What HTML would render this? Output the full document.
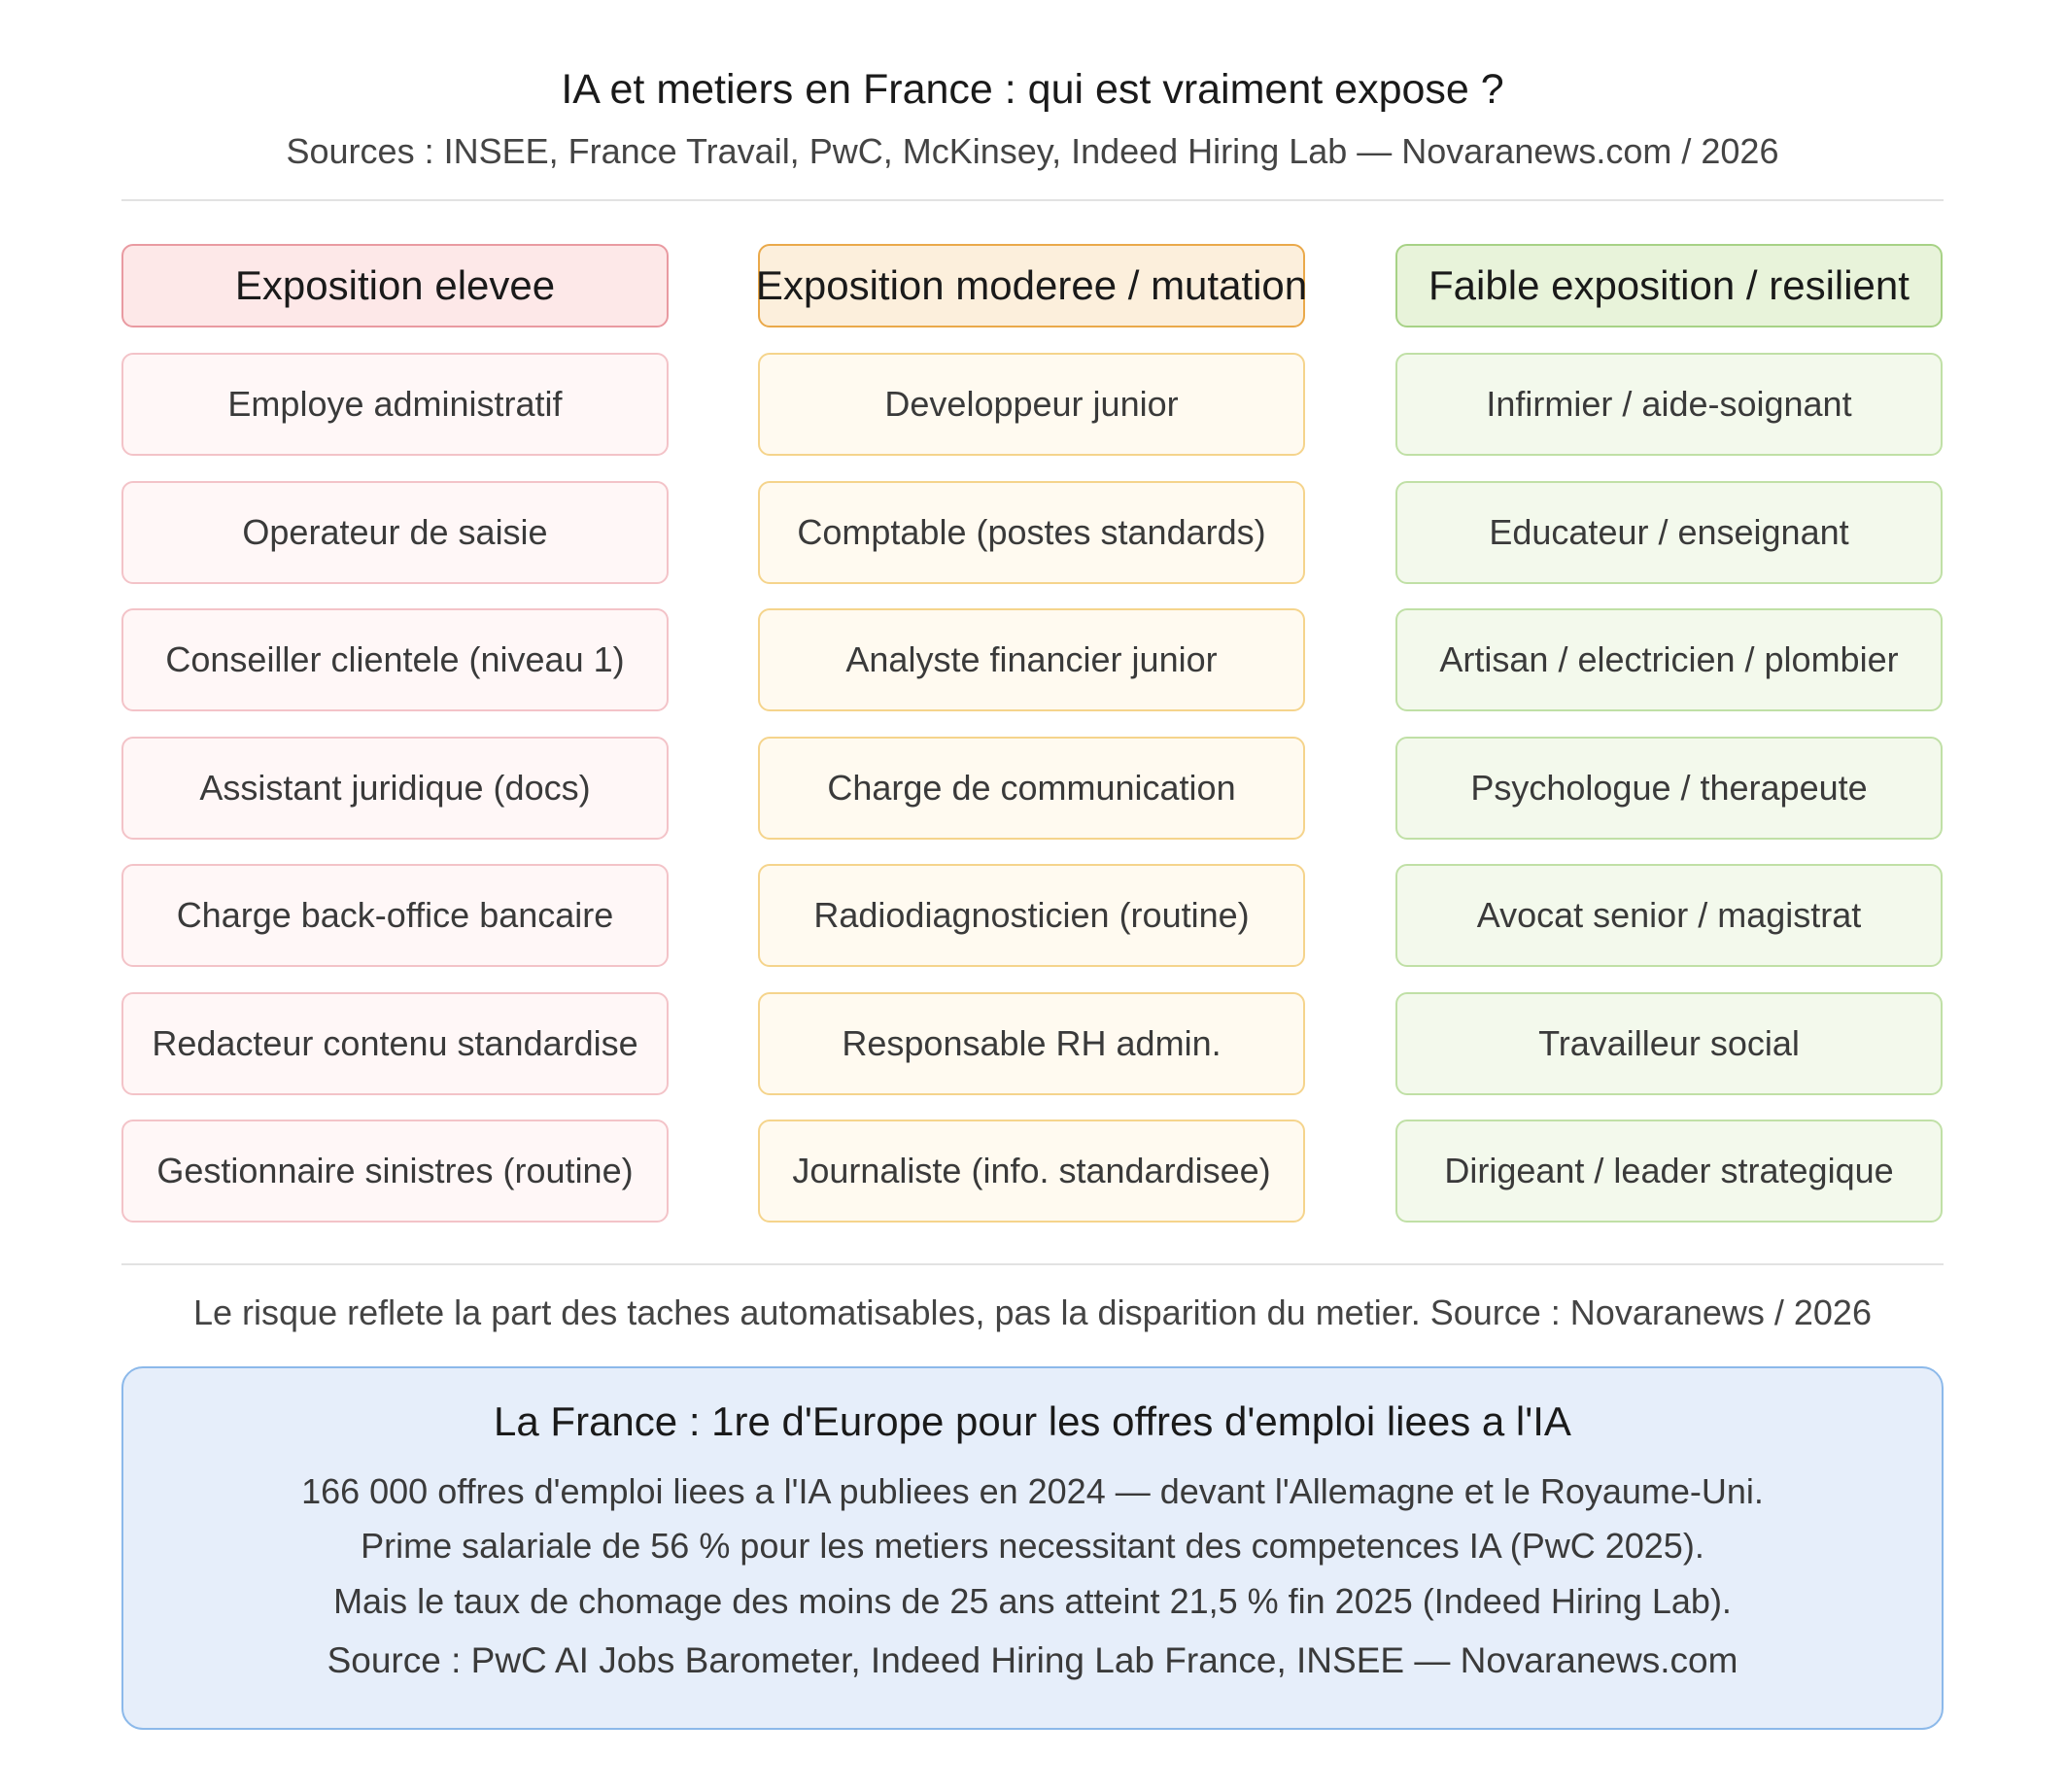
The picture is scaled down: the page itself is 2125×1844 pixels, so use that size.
<!DOCTYPE html>
<html><head><meta charset="utf-8"><style>
body{margin:0;width:2125px;height:1844px;background:#fff;font-family:"Liberation Sans","DejaVu Sans",sans-serif;color:#333;position:relative;overflow:hidden}
.t{position:absolute;left:0;width:2125px;height:60px;line-height:60px;text-align:center;white-space:nowrap}
.b{position:absolute;box-sizing:border-box;display:flex;align-items:center;justify-content:center;white-space:nowrap;border-radius:12px;border:2px solid}
.h{height:86px;top:251px;font-size:42px;color:#1a1a1a}
.c{height:106px;font-size:36px;color:#3a3a3a}
.r{left:125px;width:563px}.o{left:780px;width:563px}.g{left:1436px;width:563px}
.h.r{background:#fde8e8;border-color:#e99aa1}.h.o{background:#fcefdc;border-color:#eaa94a}.h.g{background:#e8f3da;border-color:#a7d286}
.c.r{background:#fff7f7;border-color:#f3c3c8}.c.o{background:#fffaf0;border-color:#f5d48c}.c.g{background:#f3f9ec;border-color:#c0e0a6}
.hr{position:absolute;left:125px;width:1875px;height:2px;background:#e2e2e2}
</style></head><body>
<div class="t" style="top:62px;font-size:43px;color:#1a1a1a">IA et metiers en France : qui est vraiment expose ?</div>
<div class="t" style="top:126px;font-size:36px;color:#444">Sources : INSEE, France Travail, PwC, McKinsey, Indeed Hiring Lab — Novaranews.com / 2026</div>
<div class="hr" style="top:205px"></div>

<div class="b h r">Exposition elevee</div>
<div class="b h o">Exposition moderee / mutation</div>
<div class="b h g">Faible exposition / resilient</div>

<div class="b c r" style="top:363px">Employe administratif</div>
<div class="b c r" style="top:495px">Operateur de saisie</div>
<div class="b c r" style="top:626px">Conseiller clientele (niveau 1)</div>
<div class="b c r" style="top:758px">Assistant juridique (docs)</div>
<div class="b c r" style="top:889px">Charge back-office bancaire</div>
<div class="b c r" style="top:1021px">Redacteur contenu standardise</div>
<div class="b c r" style="top:1152px">Gestionnaire sinistres (routine)</div>

<div class="b c o" style="top:363px">Developpeur junior</div>
<div class="b c o" style="top:495px">Comptable (postes standards)</div>
<div class="b c o" style="top:626px">Analyste financier junior</div>
<div class="b c o" style="top:758px">Charge de communication</div>
<div class="b c o" style="top:889px">Radiodiagnosticien (routine)</div>
<div class="b c o" style="top:1021px">Responsable RH admin.</div>
<div class="b c o" style="top:1152px">Journaliste (info. standardisee)</div>

<div class="b c g" style="top:363px">Infirmier / aide-soignant</div>
<div class="b c g" style="top:495px">Educateur / enseignant</div>
<div class="b c g" style="top:626px">Artisan / electricien / plombier</div>
<div class="b c g" style="top:758px">Psychologue / therapeute</div>
<div class="b c g" style="top:889px">Avocat senior / magistrat</div>
<div class="b c g" style="top:1021px">Travailleur social</div>
<div class="b c g" style="top:1152px">Dirigeant / leader strategique</div>

<div class="hr" style="top:1300px"></div>
<div class="t" style="top:1321px;font-size:36px;color:#444">Le risque reflete la part des taches automatisables, pas la disparition du metier. Source : Novaranews / 2026</div>

<div style="position:absolute;left:125px;top:1406px;width:1875px;height:374px;box-sizing:border-box;background:#e6eefa;border:2px solid #8cb9ea;border-radius:22px"></div>
<div class="t" style="top:1433px;font-size:42px;color:#1a1a1a">La France : 1re d'Europe pour les offres d'emploi liees a l'IA</div>
<div class="t" style="top:1505px;font-size:36px;color:#3a3a3a">166 000 offres d'emploi liees a l'IA publiees en 2024 — devant l'Allemagne et le Royaume-Uni.</div>
<div class="t" style="top:1561px;font-size:36px;color:#3a3a3a">Prime salariale de 56 % pour les metiers necessitant des competences IA (PwC 2025).</div>
<div class="t" style="top:1618px;font-size:36px;color:#3a3a3a">Mais le taux de chomage des moins de 25 ans atteint 21,5 % fin 2025 (Indeed Hiring Lab).</div>
<div class="t" style="top:1679px;font-size:37px;color:#3a3a3a">Source : PwC AI Jobs Barometer, Indeed Hiring Lab France, INSEE — Novaranews.com</div>
</body></html>
